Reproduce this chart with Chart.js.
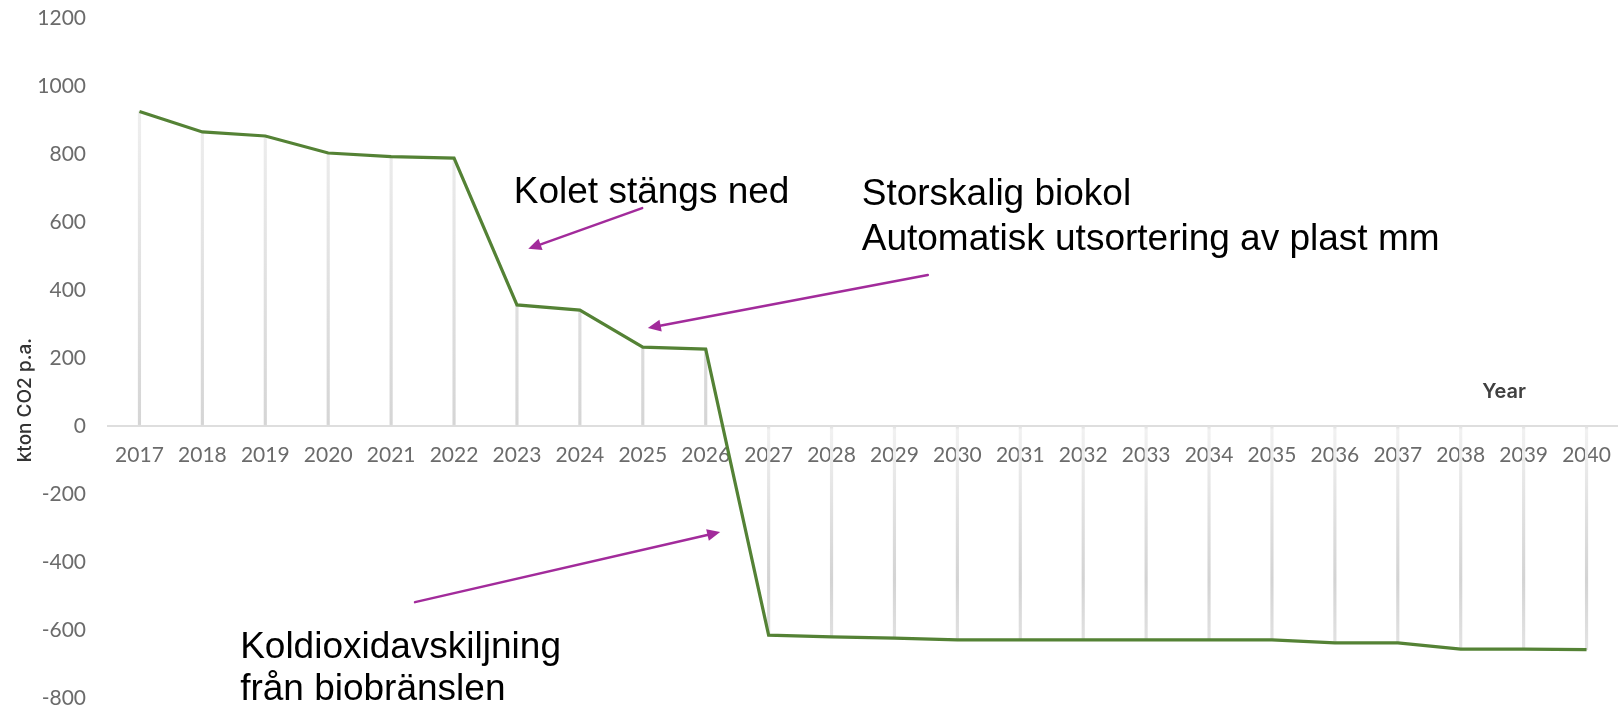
<!DOCTYPE html>
<html>
<head>
<meta charset="utf-8">
<script src="https://cdn.jsdelivr.net/npm/chart.js@4/dist/chart.umd.min.js"></script>
<style>
html,body{margin:0;padding:0;background:#fff;}
#wrap{width:1618px;height:709px;position:relative;}
</style>
</head>
<body>
<div id="wrap"><canvas id="c"></canvas></div>
<script>
// ---- data ----
const years = ['2017','2018','2019','2020','2021','2022','2023','2024','2025','2026','2027','2028','2029','2030','2031','2032','2033','2034','2035','2036','2037','2038','2039','2040'];
const emissions = [925, 865, 853, 803, 792, 788, 356, 341, 232, 226, -615, -620, -624, -629, -629, -629, -629, -629, -629, -638, -638, -656, -656, -658];
const yMin = -800;
const yMax = 1200;
const yStep = 200;
const yAxisTitle = 'kton CO2 p.a.';
const xAxisTitle = 'Year';
const noteCoal = ['Kolet stängs ned'];
const noteBiochar = ['Storskalig biokol', 'Automatisk utsortering av plast mm'];
const noteCapture = ['Koldioxidavskiljning', 'från biobränslen'];

// ---- annotation plugin (positions anchored to the chart's scales) ----
const ARROW = '#A22B9B';
function arrow(ctx, x1, y1, x2, y2) {
  const a = Math.atan2(y2 - y1, x2 - x1);
  const L = 13, W = 6;
  ctx.save();
  ctx.strokeStyle = ARROW; ctx.fillStyle = ARROW; ctx.lineWidth = 2.5; ctx.lineCap = 'round';
  ctx.beginPath();
  ctx.moveTo(x1, y1);
  ctx.lineTo(x2 - Math.cos(a) * (L - 2), y2 - Math.sin(a) * (L - 2));
  ctx.stroke();
  ctx.beginPath();
  ctx.moveTo(x2, y2);
  ctx.lineTo(x2 - L * Math.cos(a) + W * Math.sin(a), y2 - L * Math.sin(a) - W * Math.cos(a));
  ctx.lineTo(x2 - L * Math.cos(a) - W * Math.sin(a), y2 - L * Math.sin(a) + W * Math.cos(a));
  ctx.closePath();
  ctx.fill();
  ctx.restore();
}
const annotations = {
  id: 'annotations',
  afterDraw(chart) {
    const {ctx} = chart;
    const xs = chart.scales.x, ys = chart.scales.y;
    const px = i => xs.getPixelForValue(i);
    const py = v => ys.getPixelForValue(v);
    ctx.save();
    ctx.fillStyle = '#000';
    ctx.font = '37px "Liberation Sans", Arial, sans-serif';
    ctx.textAlign = 'left';
    ctx.textBaseline = 'alphabetic';
    ctx.fillText(noteCoal[0], px(5.95), py(656));
    ctx.fillText(noteBiochar[0], px(11.48), py(650));
    ctx.fillText(noteBiochar[1], px(11.48), py(518));
    ctx.fillText(noteCapture[0], px(1.60), py(-682));
    ctx.fillText(noteCapture[1], px(1.60), py(-806));
    arrow(ctx, px(7.99), py(641), px(6.18), py(521));
    arrow(ctx, px(12.53), py(444), px(8.08), py(288));
    arrow(ctx, px(4.38), py(-518), px(9.23), py(-312));
    ctx.fillStyle = '#404040';
    ctx.font = '600 20px Inter, "Noto Sans", sans-serif';
    ctx.textAlign = 'center';
    ctx.textBaseline = 'middle';
    ctx.fillText(xAxisTitle, px(21.69), py(100));
    ctx.save();
    ctx.translate(25, py(76));
    ctx.rotate(-Math.PI / 2);
    ctx.fillStyle = '#333';
    ctx.font = '500 19px Inter, "Noto Sans", sans-serif';
    ctx.fillText(yAxisTitle, 0, 0);
    ctx.restore();
    ctx.restore();
  }
};

const tickFont = {family: 'Lato, "Open Sans", sans-serif', size: 21, lineHeight: 1.0};
const tickColor = '#6b6b6b';

function dropColor(context) {
  const chart = context.chart;
  const area = chart.chartArea;
  if (!area) return '#e4e4e4';
  const ys = chart.scales.y;
  const top = area.top, bottom = area.bottom;
  const z = ys.getPixelForValue(0);
  const g = chart.ctx.createLinearGradient(0, top, 0, bottom);
  const f = p => Math.min(1, Math.max(0, (p - top) / (bottom - top)));
  g.addColorStop(0, '#f6f6f6');
  g.addColorStop(f(z - 2), '#d5d5d5');
  g.addColorStop(f(z + 4), '#f1f1f1');
  g.addColorStop(f(ys.getPixelForValue(-450)), '#d3d3d3');
  g.addColorStop(1, '#eeeeee');
  return g;
}

new Chart(document.getElementById('c'), {
  data: {
    labels: years,
    datasets: [
      {
        type: 'line',
        data: emissions,
        borderColor: '#548235',
        borderWidth: 3.2,
        pointRadius: 0,
        tension: 0,
        fill: false,
        order: 0
      },
      {
        type: 'bar',
        data: emissions,
        backgroundColor: dropColor,
        barThickness: 2.5,
        order: 1
      }
    ]
  },
  options: {
    responsive: true,
    maintainAspectRatio: false,
    animation: false,
    events: [],
    layout: {padding: {top: 18, bottom: 11, left: 0, right: 0}},
    plugins: {legend: {display: false}, tooltip: {enabled: false}, title: {display: false}},
    scales: {
      x: {
        type: 'category',
        position: {y: 0},
        offset: true,
        grid: {display: true, drawOnChartArea: false, drawTicks: true, tickLength: 17, tickColor: 'rgba(0,0,0,0)'},
        border: {display: true, color: '#dedede', width: 2},
        ticks: {color: tickColor, font: tickFont, padding: 2, maxRotation: 0, autoSkip: false}
      },
      y: {
        min: yMin,
        max: yMax,
        ticks: {stepSize: yStep, color: tickColor, font: tickFont, padding: 0, callback: v => String(v)},
        grid: {display: true, drawOnChartArea: false, drawTicks: true, tickLength: 22, tickColor: 'rgba(0,0,0,0)'},
        border: {display: false},
        afterFit: a => { a.width = 108; }
      }
    }
  },
  plugins: [annotations]
});
</script>
</body>
</html>
